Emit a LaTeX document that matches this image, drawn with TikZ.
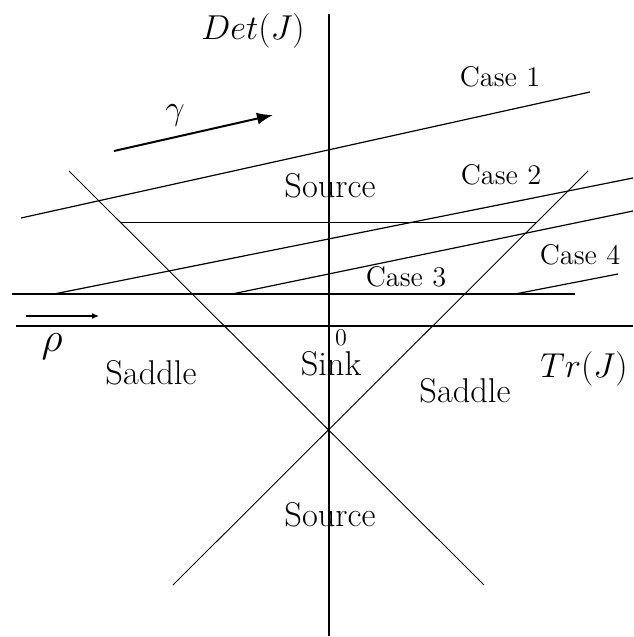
\documentclass[tikz,border=0pt]{standalone}
\usetikzlibrary{arrows.meta}
\begin{document}
\begin{tikzpicture}[x=0.5pt,y=-0.5pt,
  lbl/.style={inner sep=0pt,font=\fontsize{17.2}{20}\selectfont},
  caselbl/.style={inner sep=0pt,font=\fontsize{14.2}{17}\selectfont},
  axis/.style={line width=0.8pt},
  thin line/.style={line width=0.45pt},
  case line/.style={line width=0.6pt}]
\useasboundingbox (0,0) rectangle (633,637);
% axes
\coordinate (vt) at (329,14);
\coordinate (vb) at (329,636);
\coordinate (hl) at (16,326);
\coordinate (hr) at (633,326);
\draw[axis] (vt) -- (vb);
\draw[axis] (hl) -- (hr);
% X lines
\coordinate (d1a) at (69,171);
\coordinate (d1b) at (484,585);
\coordinate (d2a) at (588,171);
\coordinate (d2b) at (173,585);
\draw[thin line] (d1a) -- (d1b);
\draw[thin line] (d2a) -- (d2b);
% horizontal segments
\coordinate (h1a) at (121,222);
\coordinate (h1b) at (537,222);
\draw[thin line] (h1a) -- (h1b);
\coordinate (h2a) at (12,294);
\coordinate (h2b) at (575,294);
\draw[case line] (h2a) -- (h2b);
% case lines
\coordinate (c1a) at (21,218);
\coordinate (c1b) at (590,92);
\draw[case line] (c1a) -- (c1b);
\coordinate (c2a) at (54,294);
\coordinate (c2b) at (633,178);
\draw[case line] (c2a) -- (c2b);
\coordinate (c3a) at (232,294);
\coordinate (c3b) at (633,211);
\draw[case line] (c3a) -- (c3b);
\coordinate (c4a) at (515,294);
\coordinate (c4b) at (618,274);
\draw[case line] (c4a) -- (c4b);
% arrows
\coordinate (ga) at (114,151);
\coordinate (gb) at (273,115);
\draw[line width=1pt,-{Latex[length=8pt,width=6pt]}] (ga) -- (gb);
\coordinate (ra) at (26,316);
\coordinate (rb) at (99,316);
\draw[line width=0.6pt,-{Latex[length=3.5pt,width=3pt]}] (ra) -- (rb);
% labels
\node[lbl] (det) at (253,31) {$Det(J)$};
\node[lbl] (tr) at (584,369) {$Tr(J)$};
\node[lbl] (gamma) at (175,115) {$\gamma$};
\node[inner sep=0pt,font=\fontsize{22}{24}\selectfont] (rho) at (52,347) {$\rho$};
\node[inner sep=0pt,font=\fontsize{12}{14}\selectfont] (zero) at (341,338) {0};
\node[lbl] (src1) at (330,186) {Source};
\node[lbl] (src2) at (330,515) {Source};
\node[lbl] (sad1) at (151,373) {Saddle};
\node[lbl] (sad2) at (465,391) {Saddle};
\node[lbl] (sink) at (331,364) {Sink};
\node[caselbl] (case1) at (500,77) {Case 1};
\node[caselbl] (case2) at (501,175) {Case 2};
\node[caselbl] (case3) at (406,277) {Case 3};
\node[caselbl] (case4) at (580,255) {Case 4};
\end{tikzpicture}
\end{document}
